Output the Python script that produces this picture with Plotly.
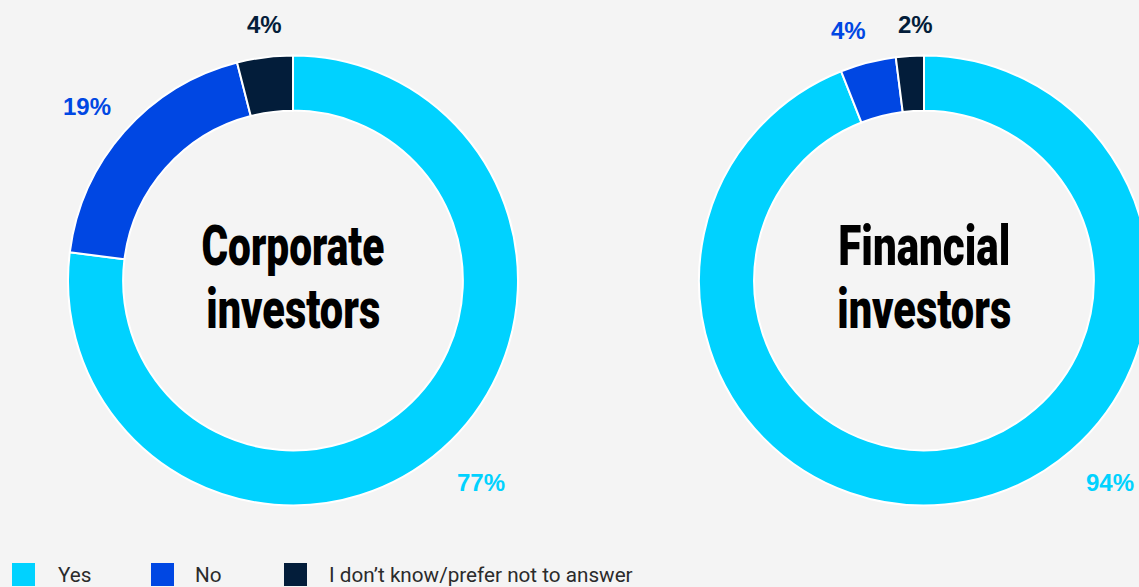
import json
import plotly.graph_objects as go

# ---------------- data ----------------
categories = ["Yes", "No", "I don’t know/prefer not to answer"]
corporate_values = [77, 19, 4]
financial_values = [94, 4, 2]
group_title_lines = [["Corporate", "investors"], ["Financial", "investors"]]
colors = ["#00D2FF", "#0047E3", "#031D3A"]

# ---------------- layout constants (pixels) ----------------
W, H = 1160, 587
BG = "#F4F4F4"
R = 225
centers = [(293, 280.5), (924, 280.5)]
label_pos = [
    [(481, 482.5), (87, 106), (264, 24)],
    [(1110, 482.5), (848, 30), (915, 24.5)],
]
title_widths = {"Corporate": 183, "Financial": 172, "investors": 174}
legend_box_x = [12, 151, 284]
legend_text_x = [56, 193, 327]


def fx(x):
    return x / W


def fy(y):
    return 1 - y / H


fig = go.Figure()
annotations = []
shapes = []

for i, vals in enumerate([corporate_values, financial_values]):
    cx, cy = centers[i]
    fig.add_trace(go.Pie(
        values=vals,
        labels=categories,
        sort=False,
        direction="clockwise",
        rotation=0,
        hole=0.755,
        marker=dict(colors=colors, line=dict(color="#FFFFFF", width=2)),
        textinfo="none",
        showlegend=False,
        domain=dict(x=[fx(cx - R), fx(cx + R)], y=[fy(cy + R), fy(cy - R)]),
    ))
    # percentage labels
    for j, v in enumerate(vals):
        lx, ly = label_pos[i][j]
        annotations.append(dict(
            x=fx(lx), y=fy(ly), xref="paper", yref="paper",
            text=f"<b>{v}%</b>", showarrow=False,
            xanchor="center", yanchor="middle",
            font=dict(family="Liberation Sans", size=24, color=colors[j]),
        ))
    # centre title (two lines)
    for k, line in enumerate(group_title_lines[i]):
        annotations.append(dict(
            x=fx(cx), y=fy(246 + k * 63), xref="paper", yref="paper",
            text=line, showarrow=False,
            xanchor="center", yanchor="middle",
            font=dict(family="Roboto", size=55, color="#000000", weight=900),
        ))

# legend
for j, cat in enumerate(categories):
    shapes.append(dict(
        type="rect", xref="paper", yref="paper",
        x0=fx(legend_box_x[j]), x1=fx(legend_box_x[j] + 23),
        y0=fy(586), y1=fy(563),
        fillcolor=colors[j], line=dict(width=0),
    ))
    annotations.append(dict(
        x=fx(legend_text_x[j]), y=fy(575), xref="paper", yref="paper",
        text=cat, showarrow=False, xanchor="left", yanchor="middle",
        font=dict(family="Roboto", size=20.7, color="#2B2B2B"),
    ))

fig.update_layout(
    width=W, height=H,
    margin=dict(l=0, r=0, t=0, b=0),
    paper_bgcolor=BG, plot_bgcolor=BG,
    annotations=annotations,
    shapes=shapes,
    showlegend=False,
)

# condense the centre titles horizontally (the reference uses a condensed display face)
js = """
document.body.style.margin='0';
document.body.style.overflow='hidden';
var widths = %s;
document.querySelectorAll('text.annotation-text').forEach(function(el){
  var t = el.textContent;
  if (widths.hasOwnProperty(t)) {
    var w = el.getBBox().width;
    var s = widths[t] / w;
    el.style.transformBox = 'fill-box';
    el.style.transformOrigin = '50%% 50%%';
    el.style.transform = 'scaleX(' + s + ')';
  }
});
""" % json.dumps(title_widths)

fig.write_html(
    "out.html",
    config={"displayModeBar": False},
    post_script=js,
)
